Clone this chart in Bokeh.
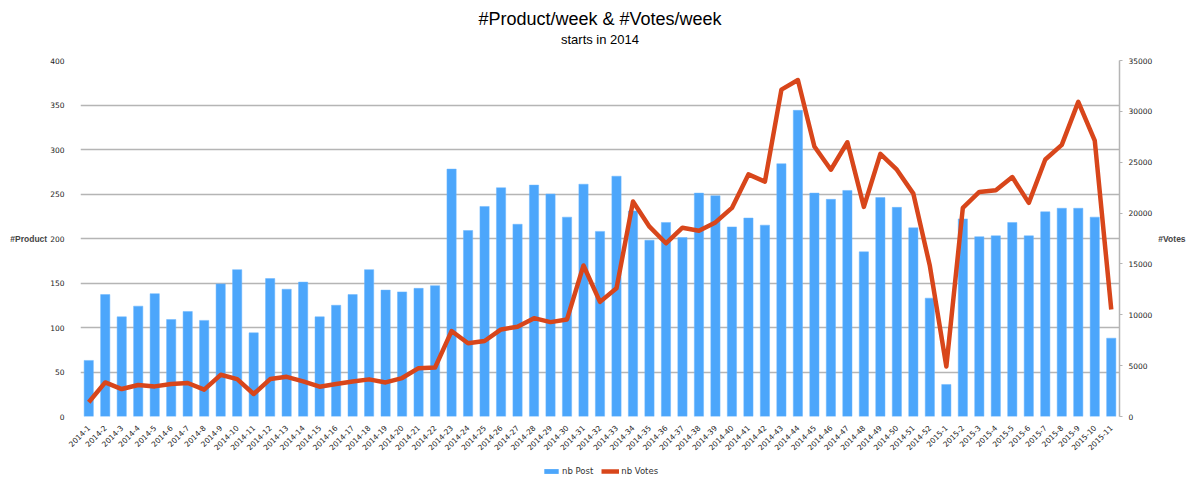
import math
from bokeh.plotting import figure
from bokeh.layouts import column
from bokeh.models import (FactorRange, Range1d, LinearAxis, Title, Legend,
                          LegendItem, FixedTicker)
from bokeh.embed import file_html
from bokeh.resources import INLINE

weeks = [
    "2014-1", "2014-2", "2014-3", "2014-4", "2014-5", "2014-6", "2014-7", "2014-8", "2014-9", "2014-10",
    "2014-11", "2014-12", "2014-13", "2014-14", "2014-15", "2014-16", "2014-17", "2014-18", "2014-19", "2014-20",
    "2014-21", "2014-22", "2014-23", "2014-24", "2014-25", "2014-26", "2014-27", "2014-28", "2014-29", "2014-30",
    "2014-31", "2014-32", "2014-33", "2014-34", "2014-35", "2014-36", "2014-37", "2014-38", "2014-39", "2014-40",
    "2014-41", "2014-42", "2014-43", "2014-44", "2014-45", "2014-46", "2014-47", "2014-48", "2014-49", "2014-50",
    "2014-51", "2014-52",
    "2015-1", "2015-2", "2015-3", "2015-4", "2015-5", "2015-6", "2015-7", "2015-8", "2015-9", "2015-10", "2015-11",
]

nb_post = [
    63, 137, 112, 124, 138, 109, 118, 108, 149, 165,
    94, 155, 143, 151, 112, 125, 137, 165, 142, 140,
    144, 147, 278, 209, 236, 257, 216, 260, 250, 224,
    261, 208, 270, 231, 198, 218, 201, 251, 248, 213,
    223, 215, 284, 344, 251, 244, 254, 185, 246, 235,
    212, 133,
    36, 222, 202, 203, 218, 203, 230, 234, 234, 224, 88,
]

nb_votes = [
    1400, 3350, 2700, 3100, 2960, 3190, 3290, 2640, 4100, 3680,
    2210, 3680, 3900, 3450, 2930, 3190, 3450, 3650, 3350, 3780,
    4750, 4820, 8400, 7200, 7420, 8560, 8820, 9670, 9280, 9540,
    14850, 11270, 12600, 21130, 18660, 17030, 18560, 18270, 19080, 20510,
    23800, 23090, 32140, 33080, 26540, 24260, 26960, 20610, 25820, 24260,
    21910, 14810,
    4920, 20510, 22080, 22240, 23540, 21000, 25270, 26700, 30930, 27120, 10520,
]

product_ticks = [0, 50, 100, 150, 200, 250, 300, 350, 400]
votes_ticks = [0, 5000, 10000, 15000, 20000, 25000, 30000, 35000]

FONT = "DejaVu Sans"
TFONT = "Liberation Sans"
BAR_FILL = "#4CA6FB"
BAR_LINE = "#6BB6FF"
LINE_COLOR = "#D8461B"

p = figure(x_range=FactorRange(factors=weeks, range_padding=0),
           y_range=Range1d(0, 400),
           width=1192, height=455,
           output_backend="svg", toolbar_location=None,
           title="#Product/week & #Votes/week",
           min_border_left=80, min_border_right=73,
           min_border_top=60, min_border_bottom=38)
p.title.align = "center"
p.title.text_font = TFONT
p.title.text_font_size = "18px"
p.title.text_font_style = "normal"
p.title.text_color = "#000000"
p.title.standoff = -26
p.add_layout(Title(text="starts in 2014", align="center", text_font=TFONT,
                   text_font_size="13px", text_font_style="normal",
                   text_color="#000000", standoff=28), "above")

p.outline_line_color = None
p.background_fill_color = "white"

p.extra_y_ranges = {"votes": Range1d(0, 35000)}

p.vbar(x=weeks, top=nb_post, width=0.56, fill_color=BAR_FILL,
       line_color=BAR_LINE, line_width=0.5)
p.line(x=weeks, y=nb_votes, y_range_name="votes",
       line_color=LINE_COLOR, line_width=4.5, line_join="round")

# left axis
ly = p.yaxis[0]
ly.ticker = FixedTicker(ticks=product_ticks)
ly.axis_label = "#Product"
ly.axis_label_orientation = "horizontal"
ly.axis_label_text_font = TFONT
ly.axis_label_text_font_size = "8.5px"
ly.axis_label_text_font_style = "bold"
ly.axis_label_standoff = 0
ly.major_label_text_font = FONT
ly.major_label_text_font_size = "7.5px"
ly.major_label_text_color = "#222222"
ly.major_label_standoff = 10
ly.axis_line_color = None
ly.major_tick_line_color = None
ly.minor_tick_line_color = None

ry = LinearAxis(y_range_name="votes", ticker=FixedTicker(ticks=votes_ticks))
ry.axis_label = "#Votes"
ry.axis_label_orientation = "horizontal"
ry.axis_label_text_font = TFONT
ry.axis_label_text_font_size = "8.5px"
ry.axis_label_text_font_style = "bold"
ry.axis_label_standoff = 3
ry.major_label_text_font = FONT
ry.major_label_text_font_size = "7.5px"
ry.major_label_text_color = "#222222"
ry.major_label_standoff = 6
ry.axis_line_color = "#B5B5B5"
ry.axis_line_width = 1.5
ry.major_tick_line_color = "#B5B5B5"
ry.major_tick_in = 0
ry.major_tick_out = 3
ry.minor_tick_line_color = None
p.add_layout(ry, "right")

xa = p.xaxis[0]
xa.major_label_orientation = math.pi / 4
xa.major_label_text_font = FONT
xa.major_label_text_font_size = "7.5px"
xa.major_label_text_color = "#222222"
xa.major_label_standoff = 4
xa.axis_line_color = None
xa.major_tick_line_color = None
xa.minor_tick_line_color = None

p.xgrid.grid_line_color = None
p.ygrid.ticker = FixedTicker(ticks=product_ticks)
p.ygrid.grid_line_color = "#B5B5B5"
p.ygrid.grid_line_width = 1.5

# legend strip below the chart; its renderers use the same data but lie
# far outside this strip's y range, so only the legend itself is visible
lg = figure(width=1192, height=28, output_backend="svg", toolbar_location=None,
            x_range=FactorRange(factors=weeks, range_padding=0),
            y_range=Range1d(1e6, 2e6),
            x_axis_location=None, y_axis_location=None,
            min_border_left=0, min_border_right=0, min_border_top=0, min_border_bottom=0)
lg.grid.visible = False
lg.outline_line_color = None
r_bar = lg.vbar(x=weeks, top=nb_post, width=0.56, fill_color=BAR_FILL,
                line_color=None)
r_line = lg.line(x=weeks, y=nb_votes, line_color=LINE_COLOR, line_width=4.5)
legend = Legend(items=[LegendItem(label="nb Post", renderers=[r_bar]),
                       LegendItem(label="nb Votes", renderers=[r_line])],
                orientation="horizontal", location=(462, 7),
                border_line_color=None, background_fill_alpha=0,
                label_text_font=FONT, label_text_font_size="8.5px",
                label_text_color="#333333",
                glyph_width=18, glyph_height=6, label_standoff=2,
                spacing=8, padding=2, margin=0)
lg.add_layout(legend, "center")

layout = column(p, lg, spacing=0)

open("out.html", "w").write(file_html(layout, INLINE))
